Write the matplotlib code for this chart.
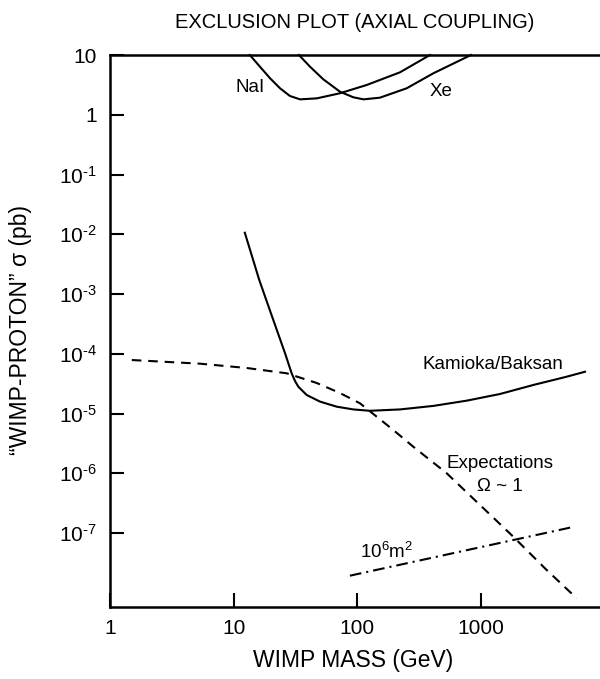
import numpy as np
import matplotlib
matplotlib.use("Agg")
import matplotlib.pyplot as plt

plt.rcParams['font.family'] = ['Liberation Sans', 'DejaVu Sans']
plt.rcParams['mathtext.fontset'] = 'custom'
plt.rcParams['mathtext.rm'] = 'Liberation Sans'
plt.rcParams['mathtext.it'] = 'Liberation Sans:italic'

# ---- data ----
nai_mass = [13.5, 16.3, 19.7, 23.7, 28.5, 34.4, 46.9, 72.3, 119, 221, 386]
nai_sigma = [10, 6.37, 4.07, 2.77, 2.06, 1.81, 1.88, 2.29, 3.15, 5.13, 10]

xe_mass = [33.7, 41.4, 53.0, 72.3, 92.7, 112, 152, 250, 411, 828]
xe_sigma = [10, 6.37, 3.92, 2.43, 1.96, 1.81, 1.93, 2.77, 4.94, 10]

kam_mass = [12.3, 16.1, 20.9, 26.0, 29.4, 31.3, 33.3, 38.9, 49.9, 68.1, 92.7, 126, 221,
            411, 765, 1420, 2640, 4920, 6920]
kam_sigma = [1.06e-2, 1.71e-3, 3.67e-4, 1.02e-4, 4.71e-5, 3.5e-5, 2.81e-5, 2.04e-5, 1.58e-5,
             1.30e-5, 1.17e-5, 1.11e-5, 1.17e-5, 1.34e-5, 1.64e-5, 2.12e-5, 3.0e-5,
             4.13e-5, 5.0e-5]

exp_mass = [1.5, 5.34, 12.7, 26.8, 46.9, 72.3, 105, 195, 283, 527, 980, 1820, 3390, 5930]
exp_sigma = [7.85e-5, 6.82e-5, 5.78e-5, 4.71e-5, 3.24e-5, 2.2e-5, 1.48e-5, 5.3e-6,
             2.78e-6, 1.0e-6, 2.94e-7, 8.67e-8, 2.4e-8, 8.07e-9]

m2_mass = [87, 5240]
m2_sigma = [1.93e-8, 1.23e-7]

x_ticks = [1, 10, 100, 1000]
x_ticklabels = ['1', '10', '100', '1000']
y_ticks = [10, 1, 1e-1, 1e-2, 1e-3, 1e-4, 1e-5, 1e-6, 1e-7]
y_ticklabels = ['10', '1'] + ['10$^{\\text{-}\\mathregular{%d}}$' % k for k in range(1, 8)]

W, H = 600, 679
fig = plt.figure(figsize=(W / 100, H / 100), dpi=100)
ax = fig.add_axes([110 / W, 1 - 607 / H, 490 / W, 552 / H])

lw = 1.5
ax.plot(nai_mass, nai_sigma, color='black', lw=lw, clip_on=False)
ax.plot(xe_mass, xe_sigma, color='black', lw=lw, clip_on=False)
ax.plot(kam_mass, kam_sigma, color='black', lw=lw)
ax.plot(exp_mass, exp_sigma, color='black', lw=lw, dashes=(4.6, 3.3))
ax.plot(m2_mass, m2_sigma, color='black', lw=lw, dashes=(5.6, 2.4, 1.0, 2.4))

ax.set_xscale('log')
ax.set_yscale('log')
ax.set_xlim(1, 10 ** (490 / 123.7))
ax.set_ylim(10 ** (1 - 552 / 59.75), 10)

ax.set_xticks(x_ticks)
ax.set_xticklabels(x_ticklabels)
ax.set_yticks(y_ticks)
ax.set_yticklabels(y_ticklabels)
ax.minorticks_off()
ax.tick_params(axis='both', direction='in', length=10, width=1.5,
               labelsize=15, colors='black')
ax.tick_params(axis='y', pad=9.5)
ax.tick_params(axis='x', pad=9)

for s in ['left', 'bottom', 'top']:
    ax.spines[s].set_linewidth(1.8)
ax.spines['right'].set_visible(False)

def ftext(px, py, s, **kw):
    fig.text(px / W, 1 - py / H, s, ha='center', va='center', **kw)

ftext(355, 22, 'EXCLUSION PLOT (AXIAL COUPLING)', fontsize=14.5)
ftext(353, 661, 'WIMP MASS (GeV)', fontsize=16.5)
ftext(21, 330, '\u201cWIMP-PROTON\u201d \u03c3 (pb)', fontsize=16.5, rotation=90)

fs = 13.5
ftext(250, 88, 'NaI', fontsize=fs)
ftext(441, 92, 'Xe', fontsize=fs)
ftext(493, 364.5, 'Kamioka/Baksan', fontsize=fs)
ftext(500.5, 463.5, 'Expectations', fontsize=fs)
ftext(499.5, 486.5, '\u03a9 ~ 1', fontsize=fs)
ftext(386.5, 552, '10$^{\\mathregular{6}}$m$^{\\mathregular{2}}$', fontsize=fs)

fig.savefig('out.png', dpi=100)
